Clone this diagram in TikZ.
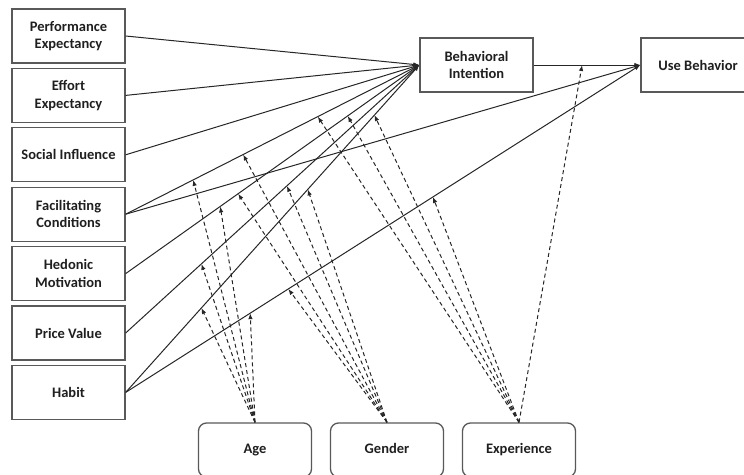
\documentclass[tikz,border=0pt]{standalone}
\usepackage{fontspec}
\setmainfont{Carlito}
\usetikzlibrary{arrows.meta,calc}
\begin{document}
\begin{tikzpicture}[x=1pt,y=-1pt,
  box/.style={draw=black!65, line width=1.3pt, minimum width=113pt, minimum height=54pt,
    align=center, font=\fontsize{14.5}{17.5}\selectfont\bfseries, text=black!88, inner sep=0pt},
  modbox/.style={box, rounded corners=8pt, text height=10pt, text depth=3pt},
  rel/.style={draw=black!85, line width=1pt, -{Latex[length=6pt,width=4.5pt]}},
  mod/.style={draw=black!85, line width=1pt, dash pattern=on 4pt off 3pt, -{Latex[length=6pt,width=4.5pt]}}
]
\useasboundingbox (0,0) rectangle (744,474);
% constructs
\node[box] (pe) at (68.5,36)    {Performance\\Expectancy};
\node[box] (ee) at (68.5,95.4)  {Effort\\Expectancy};
\node[box] (si) at (68.5,154.8) {Social Influence};
\node[box] (fc) at (68.5,214.2) {Facilitating\\Conditions};
\node[box] (hm) at (68.5,273.6) {Hedonic\\Motivation};
\node[box] (pv) at (68.5,333)   {Price Value};
\node[box] (ht) at (68.5,392.4) {Habit};
\node[box] (bi) at (476.5,65) {Behavioral\\Intention};
\node[box, minimum width=114pt] (ub) at (698,65) {Use Behavior};
% moderators
\node[modbox] (age) at (255,450) {Age};
\node[modbox] (gen) at (387,450) {Gender};
\node[modbox] (exp) at (519,450) {Experience};
% relations
\foreach \s in {pe,ee,si,fc,hm,pv,ht} \draw[rel] (\s.east) -- (bi.west);
\draw[rel] (fc.east) -- (ub.west);
\draw[rel] (ht.east) -- (ub.west);
\draw[rel] (bi.east) -- (ub.west);
% moderation targets
\coordinate (a1) at ($(fc.east)!0.23!(bi.west)$);
\coordinate (a2) at ($(hm.east)!0.322!(bi.west)$);
\coordinate (a3) at ($(pv.east)!0.258!(bi.west)$);
\coordinate (a4) at ($(ht.east)!0.258!(bi.west)$);
\coordinate (a5) at ($(ht.east)!0.242!(ub.west)$);
\coordinate (g1) at ($(fc.east)!0.40!(bi.west)$);
\coordinate (g2) at ($(hm.east)!0.383!(bi.west)$);
\coordinate (g3) at ($(pv.east)!0.549!(bi.west)$);
\coordinate (g4) at ($(ht.east)!0.62!(bi.west)$);
\coordinate (g5) at ($(ht.east)!0.316!(ub.west)$);
\coordinate (e1) at ($(fc.east)!0.654!(bi.west)$);
\coordinate (e2) at ($(hm.east)!0.756!(bi.west)$);
\coordinate (e3) at ($(ht.east)!0.847!(bi.west)$);
\coordinate (e4) at ($(ht.east)!0.597!(ub.west)$);
\coordinate (e5) at ($(bi.east)!0.454!(ub.west)$);
\foreach \t in {a1,a2,a3,a4,a5} \draw[mod] (age.north) -- (\t);
\foreach \t in {g1,g2,g3,g4,g5} \draw[mod] (gen.north) -- (\t);
\foreach \t in {e1,e2,e3,e4,e5} \draw[mod] (exp.north) -- (\t);
\end{tikzpicture}
\end{document}
